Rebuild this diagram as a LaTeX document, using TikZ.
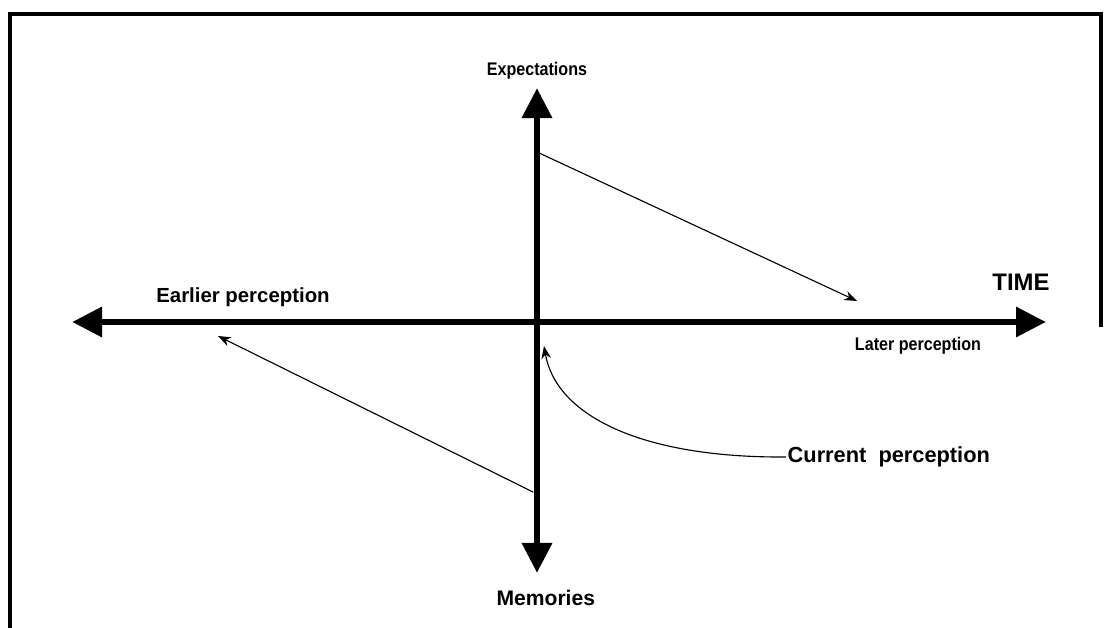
\documentclass[tikz,border=0pt]{standalone}
\usepackage{fontspec}
\setmainfont{Liberation Sans}
\newfontfamily\narrowsans{Liberation Sans}[FakeStretch=0.88]
\usetikzlibrary{arrows.meta,positioning}
\tikzset{
  axislabel/.style={font=\bfseries\fontsize{#1}{#1}\selectfont, inner sep=1pt},
  axislabel/.default=11.5,
  narrowlabel/.style={font=\narrowsans\bfseries\fontsize{13}{13}\selectfont, inner sep=1pt},
  axisline/.style={line width=4.8pt},
  thinarrow/.style={line width=0.8pt, -{Stealth[length=0.32cm,width=0.24cm]}}
}
\begin{document}
\begin{tikzpicture}[x=0.025cm, y=-0.025cm]
  \useasboundingbox (0,0) rectangle (1109,628);
  % frame
  \draw[line width=2.4pt] (10,628) -- (10,14) -- (1101,14) -- (1101,327);

  % axes
  \coordinate (west) at (72,322);
  \coordinate (east) at (1046,322);
  \coordinate (north) at (537,88);
  \coordinate (south) at (537,573);
  \draw[axisline, {Triangle[length=0.75cm,width=0.72cm]}-{Triangle[length=0.75cm,width=0.72cm]}] (west) -- (east);
  \draw[axisline, {Triangle[length=0.75cm,width=0.72cm]}-{Triangle[length=0.75cm,width=0.72cm]}] (south) -- (north);

  % labels
  \node[narrowlabel, above=0.18cm of north] (expect) {Expectations};
  \node[axislabel=15, below=0.4cm of south, xshift=0.22cm] (memo) {Memories};
  \node[axislabel=17] (time) at (1021,282) {TIME};
  \node[axislabel=14.5] (earlier) at (243,297) {Earlier perception};
  \node[narrowlabel] (later) at (918,346) {Later perception};
  \node[axislabel=15.5, anchor=west] (current) at (786,457) {Current\ \ perception};

  % thin arrows
  \coordinate (futstart) at (537,152);
  \coordinate (futend) at (857,301);
  \coordinate (paststart) at (533,492);
  \coordinate (pastend) at (218,336);
  \coordinate (now) at (544,346);
  \draw[thinarrow] (futstart) -- (futend);
  \draw[thinarrow] (paststart) -- (pastend);
  \draw[thinarrow] (current.west) .. controls (640,458) and (556,415) .. (now);
\end{tikzpicture}
\end{document}
